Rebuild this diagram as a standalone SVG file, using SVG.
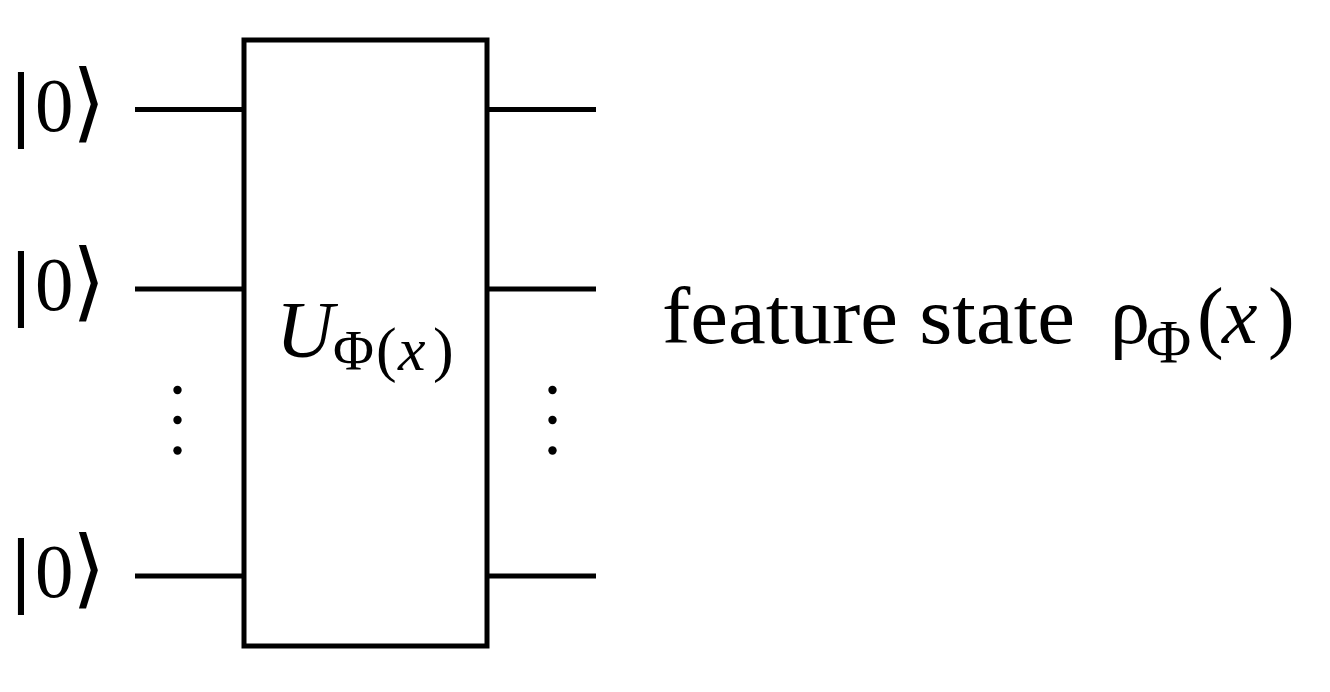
<svg xmlns="http://www.w3.org/2000/svg" width="1330" height="692" viewBox="0 0 1330 692">
<style>
.w{stroke:#000;stroke-width:5;fill:none}
.t{font-family:"Liberation Serif","Times New Roman",serif;font-size:80px;fill:#000}
.k{font-family:"Liberation Serif","Times New Roman",serif;font-size:77px;fill:#000}
.bar{font-family:"DejaVu Serif","Liberation Serif",serif;font-size:77px}
.br{font-family:"DejaVu Sans","DejaVu Serif",sans-serif;font-size:86px;font-weight:200;fill:#000}
.i{font-style:italic}
.s{font-size:56px}
.s2{font-size:62px}
.d{fill:#000}
</style>
<rect width="1330" height="692" fill="#fff"/>
<g id="connectors">
<line class="w" x1="135" y1="109.5" x2="244" y2="109.5"/>
<line class="w" x1="135" y1="289" x2="244" y2="289"/>
<line class="w" x1="135" y1="576" x2="244" y2="576"/>
<line class="w" x1="487" y1="109.5" x2="596" y2="109.5"/>
<line class="w" x1="487" y1="289" x2="596" y2="289"/>
<line class="w" x1="487" y1="576" x2="596" y2="576"/>
</g>
<g id="ket1"><text class="k" y="131"><tspan class="bar" x="8">|</tspan><tspan x="35">0</tspan><tspan class="br" x="72">⟩</tspan></text></g>
<g id="ket2"><text class="k" y="310"><tspan class="bar" x="8">|</tspan><tspan x="35">0</tspan><tspan class="br" x="72">⟩</tspan></text></g>
<g id="ket3"><text class="k" y="597"><tspan class="bar" x="8">|</tspan><tspan x="35">0</tspan><tspan class="br" x="72">⟩</tspan></text></g>
<g id="dots-left">
<circle class="d" cx="177.5" cy="390" r="4.2"/>
<circle class="d" cx="177.5" cy="420" r="4.2"/>
<circle class="d" cx="177.5" cy="450.5" r="4.2"/>
</g>
<g id="gate">
<rect class="w" x="244" y="40" width="243" height="606"/>
<text class="t" y="357"><tspan class="i" x="276">U</tspan><tspan class="s" x="333" y="370">Φ</tspan><tspan class="s2" x="376">(</tspan><tspan class="s2 i" x="398">x</tspan><tspan class="s2" x="433">)</tspan></text>
</g>
<g id="dots-right">
<circle class="d" cx="552.5" cy="390" r="4.2"/>
<circle class="d" cx="552.5" cy="420" r="4.2"/>
<circle class="d" cx="552.5" cy="450.5" r="4.2"/>
</g>
<g id="output">
<text class="t" x="662" y="343" textLength="413" lengthAdjust="spacingAndGlyphs">feature state</text>
<text class="t" y="343"><tspan x="1110">ρ</tspan><tspan class="s2" x="1146" y="362">Φ</tspan><tspan x="1197" y="343">(</tspan><tspan class="i" x="1222">x</tspan><tspan x="1268">)</tspan></text>
</g>
</svg>
